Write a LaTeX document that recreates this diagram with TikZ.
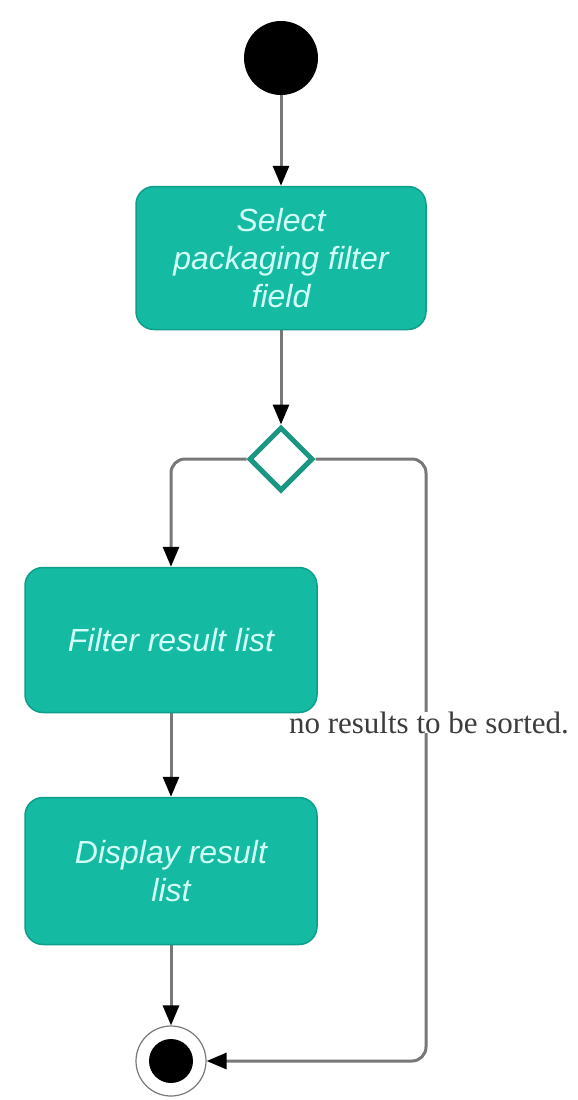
\documentclass[tikz,border=0pt]{standalone}
\usepackage{fontspec}
\setmainfont{Liberation Serif}
\newfontfamily\boxfont{Liberation Sans}
\usetikzlibrary{arrows.meta,shapes.geometric,backgrounds}
\definecolor{tealfill}{RGB}{20,186,162}
\definecolor{tealedge}{RGB}{14,158,138}
\definecolor{tealdia}{RGB}{26,150,130}
\definecolor{boxtext}{RGB}{210,255,248}
\definecolor{linegrey}{RGB}{120,120,120}
\definecolor{labeltext}{RGB}{60,60,60}
\tikzset{
  x=1pt, y=-1pt,
  actbox/.style={draw=tealedge, line width=1.5pt, fill=tealfill, rounded corners=18pt,
    text=boxtext, font=\boxfont\itshape\fontsize{32}{38}\selectfont, align=center,
    inner sep=0pt},
  arr/.style={draw=linegrey, line width=3pt,
    -{Triangle[length=20pt,width=16pt,color=black]}}
}
\begin{document}
\begin{tikzpicture}
\useasboundingbox (0,0) rectangle (578,1100);
\node[circle, fill=black, minimum size=74pt, inner sep=0pt] (start) at (281,58) {};
\node[actbox, minimum width=290pt, minimum height=143pt] (box1) at (281,258) {Select\\packaging filter\\field};
\node[diamond, draw=tealdia, line width=5pt, fill=white, minimum width=64pt, minimum height=64pt, inner sep=0pt] (dia) at (281,459) {};
\node[actbox, minimum width=292pt, minimum height=145pt] (box2) at (171,640) {Filter result list};
\node[actbox, minimum width=292pt, minimum height=147pt] (box3) at (171,871) {Display result\\list};
\node[circle, draw=linegrey, line width=1.2pt, minimum size=70pt, inner sep=0pt] (end) at (171,1061) {};
\node[circle, fill=black, minimum size=44pt, inner sep=0pt] (endin) at (171,1061) {};
\coordinate (corner) at (426,1061);

\begin{scope}[on background layer]
\draw[arr] (start) -- (box1);
\draw[arr] (box1) -- (dia);
\draw[arr, rounded corners=14pt] (dia.west) -| (box2.north);
\draw[arr, rounded corners=14pt] (dia.east) -| (corner) -- (end.east);
\draw[arr] (box2) -- (box3);
\draw[arr] (box3) -- (end);
\node[fill=white, inner xsep=1pt, inner ysep=0pt, anchor=base, text=labeltext, font=\fontsize{31}{36}\selectfont] (lbl) at (429,733) {no results to be sorted.};
\end{scope}
\end{tikzpicture}
\end{document}
